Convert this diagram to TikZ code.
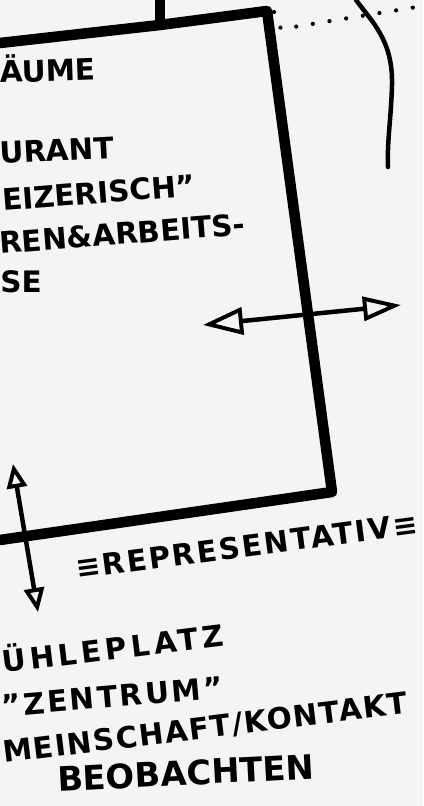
\documentclass[tikz,border=0pt]{standalone}
\usepackage{fontspec}
\setmainfont{DejaVu Sans}
\usepackage{tikz}
\usetikzlibrary{arrows.meta,positioning}
\definecolor{paper}{HTML}{F4F4F4}

\begin{document}
\begin{tikzpicture}[
    x=0.025cm, y=-0.025cm,
    wall/.style={draw=black, line width=7.5pt, line join=round, line cap=round},
    thin/.style={draw=black, line width=3.2pt, line cap=round},
    dots/.style={draw=black, line width=3pt, line cap=round, dash pattern=on 0pt off 12pt},
    arr/.style={thin, {Triangle[open, length=1cm, width=0.68cm, line width=2.8pt]}-{Triangle[open, length=0.95cm, width=0.6cm, line width=2.8pt]}},
    arrsmall/.style={thin, {Triangle[open, length=0.6cm, width=0.5cm, line width=2.8pt]}-{Triangle[open, length=0.6cm, width=0.5cm, line width=2.8pt]}},
    note/.style={anchor=base west, inner sep=0pt, font=\fontsize{21}{24}\selectfont\bfseries},
    wide/.style={note, font=\fontsize{21}{24}\selectfont\bfseries\addfontfeature{LetterSpace=#1}}
]

% ---- Paper ----
\fill[paper] (0,0) rectangle (423,806);
\useasboundingbox (0,0) rectangle (423,806);

% ---- Room outline ----
\coordinate (wallTL) at (0,43);
\coordinate (stemFoot) at (160,25);
\coordinate (wallTR) at (267,11);
\coordinate (wallBR) at (332,492);
\coordinate (wallBL) at (0,540);
\draw[wall] (wallTL) -- (stemFoot) -- (wallTR) -- (wallBR) -- (wallBL);

% ---- Stem on top ----
\coordinate (stemTop) at (160,0);
\draw[wall] (stemTop) -- (stemFoot);

% ---- Dotted line and curve (right) ----
\coordinate (dotA) at (274,12);
\coordinate (dotB) at (281,29);
\coordinate (dotC) at (423,6);
\draw[dots] (dotA) -- (dotB) -- (dotC);

\coordinate (curveTop) at (356,0);
\coordinate (curveMid) at (392,85);
\coordinate (curveEnd) at (388,167);
\draw[thin] (curveTop) .. controls (372,22) and (393,40) .. (curveMid)
    .. controls (391,120) and (387,140) .. (curveEnd);

% ---- Arrows ----
\coordinate (viewL) at (203,325);
\coordinate (viewR) at (401,305);
\draw[arr] (viewL) -- (viewR);

\coordinate (linkT) at (13,464);
\coordinate (linkB) at (38,612);
\draw[arrsmall] (linkT) -- (linkB);

% ---- Labels inside ----
\node[note, rotate=2] (raeume) at (0,83) {ÄUME};
\node[note, rotate=3] (restaurant) at (0,164) {URANT};
\node[note, rotate=4.5] (schweiz) at (3,211) {EIZERISCH"};
\node[note, rotate=4.5] (arbeit) at (0,254) {REN\&ARBEITS-};
\node[note] (raeumeB) at (0,292) {SE};

% ---- Labels below ----
\node[wide=7, rotate=7.5] (repr) at (77,579) {≡REPRESENTATIV≡};
\node[wide=14, rotate=7] (platz) at (3,673) {ÜHLEPLATZ};
\node[wide=9, rotate=5] (zentrum) at (2,717) {"ZENTRUM"};
\node[wide=5, rotate=7] (gemeinschaft) at (4,763) {MEINSCHAFT/KONTAKT};
\node[note, font=\fontsize{24}{28}\selectfont\bfseries, rotate=3] (beobachten) at (58,792) {BEOBACHTEN};

\end{tikzpicture}
\end{document}
